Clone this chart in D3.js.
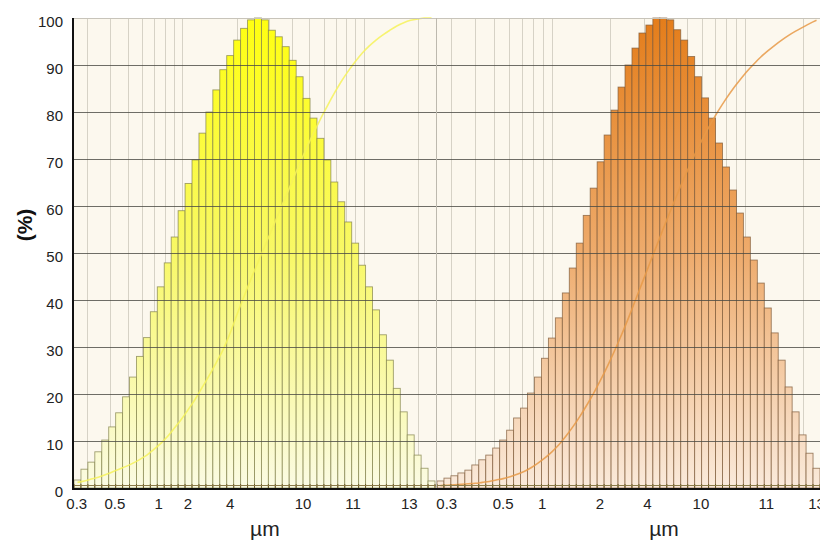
<!DOCTYPE html>
<html>
<head>
<meta charset="utf-8">
<script src="https://cdn.jsdelivr.net/npm/d3@7"></script>
<style>
  html, body { margin: 0; padding: 0; background: #fff; }
  svg { display: block; font-family: "Liberation Sans", Arial, sans-serif; }
</style>
</head>
<body>
<svg id="chart" width="820" height="543"></svg>
<script>
// 左图（黄色）每个粒径区间的频率（%）
const leftBins = [1.7, 4, 5.5, 7.7, 10.2, 13, 16, 19.4, 23.6, 28, 32, 37.5, 42.8, 47.9, 53.4, 59,
  64.8, 69.8, 75.5, 80, 84.7, 89, 92, 95.3, 97.8, 99.6, 100, 99.6, 97.4, 96, 93.9, 91, 87.5,
  82.9, 78.7, 74.4, 69.8, 65.1, 60.9, 56.6, 52.1, 47.4, 42.8, 37.9, 32.6, 27.2, 21.2, 16.2,
  11.3, 7, 4.2, 1.5];
// 左图累计曲线
const leftCum = [1.2, 1.5, 1.9, 2.3, 2.8, 3.4, 4, 4.6, 5.3, 6.1, 7, 8.2, 9.5, 11, 12.8, 14.7,
  16.8, 19, 21.5, 24, 26.7, 29.5, 33, 37, 40.8, 44.5, 48, 51.5, 55, 58.5, 62, 65.5, 69, 72.3,
  75.5, 78.5, 81.3, 84, 86.5, 88.7, 90.7, 92.5, 94, 95.3, 96.4, 97.4, 98.3, 99, 99.5, 99.8,
  100, 100];

// 右图（橙色）
const rightBins = [1.5, 2.1, 2.6, 3.2, 3.8, 4.9, 6, 7, 8.5, 10.2, 12.3, 14.9, 17, 20.2, 23.6,
  27.6, 31.9, 36.2, 41.5, 46.8, 52.1, 58, 63.8, 69.4, 75.1, 80.4, 85.3, 90, 93.6, 96.8, 98.5,
  100, 100, 99.6, 97.5, 95.3, 91.8, 87.5, 83, 78.7, 73.4, 68.3, 63.4, 58.5, 53.4, 48.5, 43.6,
  38.3, 33, 27.2, 21.5, 16.2, 11.3, 7.4, 4.2];
const rightCum = [0.5, 0.6, 0.7, 0.8, 0.9, 1, 1.2, 1.4, 1.7, 2, 2.4, 2.9, 3.5, 4.3, 5.3, 6.4,
  7.7, 9.2, 11, 13, 15.2, 17.6, 20.2, 23, 26, 29.2, 32.6, 36.2, 40, 43.8, 47.6, 51.4, 55.2,
  58.9, 62.5, 66, 69.3, 72.4, 75.3, 78, 80.5, 82.8, 84.9, 86.8, 88.6, 90.2, 91.7, 93, 94.2,
  95.3, 96.3, 97.2, 98, 98.8, 99.5];

// x轴刻度文字（位置以区间序号表示）
const tickLabels = ["0.3", "0.5", "1", "2", "4", "10", "11", "13"];
const leftTickPos = [0.4, 5.9, 12.2, 16.4, 22.5, 33, 40.2, 48.3];
const rightTickPos = [1.4, 9.5, 15.1, 23.4, 30.2, 37.9, 47.3, 54.5];
const yTicks = [0, 10, 20, 30, 40, 50, 60, 70, 80, 90, 100];

const svg = d3.select("#chart");
const plotTop = 18, plotBottom = 488, axisX = 73;

const y = d3.scaleLinear().domain([0, 100]).range([plotBottom, plotTop]);

const panels = [
  { bins: leftBins, cum: leftCum, ticks: leftTickPos, x0: 73, x1: 436, b0: 74, b1: 435,
    labelAt: 27.5, id: "gY", stops: ["#ffff10", "#f8f866", "#fbfbe4"],
    stroke: "#80804a", line: "#f6f25a" },
  { bins: rightBins, cum: rightCum, ticks: rightTickPos, x0: 436, x1: 822, b0: 437, b1: 820,
    labelAt: 32.6, id: "gO", stops: ["#e47d1a", "#eeab6c", "#faeadb"],
    stroke: "#7d5a38", line: "#e89a48" }
];

const defs = svg.append("defs");
panels.forEach((p) => {
  const g = defs.append("linearGradient")
    .attr("id", p.id)
    .attr("gradientUnits", "userSpaceOnUse")
    .attr("x1", 0).attr("x2", 0)
    .attr("y1", plotTop).attr("y2", plotBottom);
  g.append("stop").attr("offset", 0).attr("stop-color", p.stops[0]);
  g.append("stop").attr("offset", 0.5).attr("stop-color", p.stops[1]);
  g.append("stop").attr("offset", 1).attr("stop-color", p.stops[2]);
});

// 背景
svg.append("rect")
  .attr("x", axisX).attr("y", plotTop)
  .attr("width", 820 - axisX).attr("height", plotBottom - plotTop)
  .attr("fill", "#fcf8ee");

panels.forEach((p) => {
  const x = d3.scaleLinear().domain([0, p.bins.length]).range([p.b0, p.b1]);
  const bw = x(1) - x(0);
  const g = svg.append("g");

  // 竖向对数网格
  const lg = d3.scaleLog().domain([0.25, 25]).range([p.x0, p.x1]);
  g.append("g")
    .selectAll("line")
    .data(lg.ticks())
    .enter()
    .append("line")
    .attr("x1", (d) => Math.round(lg(d)) + 0.5)
    .attr("x2", (d) => Math.round(lg(d)) + 0.5)
    .attr("y1", plotTop).attr("y2", plotBottom)
    .attr("stroke", "#d6d2c6")
    .attr("stroke-width", 1);

  // 柱子
  g.append("g")
    .selectAll("rect")
    .data(p.bins)
    .enter()
    .append("rect")
    .attr("x", (d, i) => x(i))
    .attr("y", (d) => y(d))
    .attr("width", bw)
    .attr("height", (d) => plotBottom - y(d))
    .attr("fill", `url(#${p.id})`)
    .attr("stroke", p.stroke)
    .attr("stroke-opacity", 0.75)
    .attr("stroke-width", 0.9);

  // 累计曲线
  const line = d3.line()
    .x((d, i) => x(i + 0.5))
    .y((d) => y(d))
    .curve(d3.curveMonotoneX);
  g.append("path")
    .datum(p.cum)
    .attr("d", line)
    .attr("fill", "none")
    .attr("stroke", p.line)
    .attr("stroke-width", 1.6)
    .attr("stroke-opacity", 0.85);

  // 横向网格
  g.append("g")
    .selectAll("line")
    .data(yTicks.filter((d) => d > 0))
    .enter()
    .append("line")
    .attr("x1", p.x0).attr("x2", p.x1)
    .attr("y1", (d) => Math.round(y(d)) + 0.5)
    .attr("y2", (d) => Math.round(y(d)) + 0.5)
    .attr("stroke", (d) => (d === 100 ? "#c8c4ba" : "#4a4a44"))
    .attr("stroke-opacity", (d) => (d === 100 ? 1 : 0.8))
    .attr("stroke-width", 1.2);

  // 底部小刻度
  g.append("g")
    .selectAll("line")
    .data(d3.range(p.bins.length + 1))
    .enter()
    .append("line")
    .attr("x1", (d) => x(d)).attr("x2", (d) => x(d))
    .attr("y1", plotBottom - 4).attr("y2", plotBottom)
    .attr("stroke", "#6a5826")
    .attr("stroke-width", 1);
  g.append("line")
    .attr("x1", p.x0).attr("x2", p.x1)
    .attr("y1", plotBottom - 2.5).attr("y2", plotBottom - 2.5)
    .attr("stroke", "#8a7a48")
    .attr("stroke-width", 1);

  // x刻度文字
  g.append("g")
    .selectAll("text")
    .data(p.ticks)
    .enter()
    .append("text")
    .attr("x", (d) => x(d))
    .attr("y", 509)
    .attr("text-anchor", "middle")
    .style("font-size", "15px")
    .style("fill", "#222")
    .text((d, i) => tickLabels[i]);

  g.append("text")
    .attr("x", x(p.labelAt))
    .attr("y", 536)
    .attr("text-anchor", "middle")
    .style("font-size", "21px")
    .style("fill", "#222")
    .text("µm");
});

// 面板分隔线
svg.append("line")
  .attr("x1", 436.5).attr("x2", 436.5)
  .attr("y1", plotTop).attr("y2", plotBottom)
  .attr("stroke", "#bdb9ae");

// 坐标轴
svg.append("line")
  .attr("x1", axisX).attr("x2", 820)
  .attr("y1", plotBottom + 1).attr("y2", plotBottom + 1)
  .attr("stroke", "#111").attr("stroke-width", 2);
svg.append("line")
  .attr("x1", axisX).attr("x2", axisX)
  .attr("y1", plotTop).attr("y2", plotBottom + 2)
  .attr("stroke", "#111").attr("stroke-width", 2);

svg.append("g")
  .selectAll("text")
  .data(yTicks)
  .enter()
  .append("text")
  .attr("x", 63)
  .attr("y", (d) => y(d) + 9)
  .attr("text-anchor", "end")
  .style("font-size", "15px")
  .style("fill", "#222")
  .text((d) => d);

svg.append("text")
  .attr("transform", "translate(32,225) rotate(-90)")
  .attr("text-anchor", "middle")
  .style("font-size", "21px")
  .style("font-weight", "bold")
  .style("fill", "#111")
  .text("(%)");
</script>
</body>
</html>
